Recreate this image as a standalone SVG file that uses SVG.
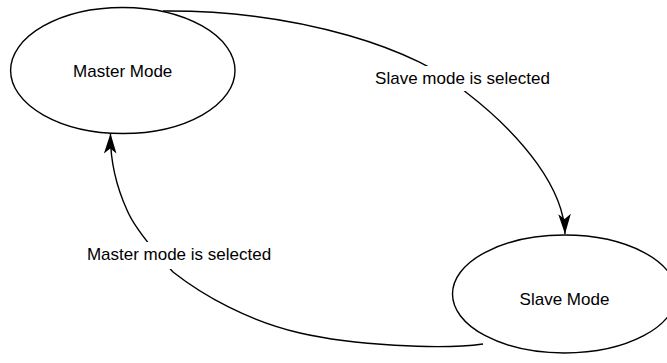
<svg xmlns="http://www.w3.org/2000/svg" width="667" height="363" viewBox="0 0 667 363">
<style>
.node{fill:#ffffff;stroke:#000000;stroke-width:1.4}
.edge{fill:none;stroke:#000000;stroke-width:1.4}
.lbl{font-family:"Liberation Sans",Arial,Helvetica,sans-serif;font-size:17px;fill:#000000;text-anchor:middle}
.lblbg{fill:#ffffff;stroke:none}
</style>
<defs>
<marker id="arrow" markerUnits="userSpaceOnUse" viewBox="-21 -8 22 16" markerWidth="22" markerHeight="16" refX="0" refY="0" orient="auto">
<path d="M0,0 L-20,-6.3 L-15,0 L-20,6.3 Z" fill="#000000"/>
</marker>
</defs>
<rect width="667" height="363" fill="#ffffff"/>
<g id="master">
<ellipse class="node" cx="122.8" cy="70.5" rx="112.2" ry="63"/>
<text class="lbl" x="122.7" y="77.3">Master Mode</text>
</g>
<g id="slave">
<ellipse class="node" cx="564.5" cy="294" rx="112" ry="59"/>
<text class="lbl" x="564.5" y="305">Slave Mode</text>
</g>
<g id="connectors">
<g id="edge-to-slave">
<path class="edge" d="M163,11 C300,10 420,50 467,93 C525,138 564,190 565,234" marker-end="url(#arrow)"/>
<rect class="lblbg" x="371" y="66" width="183" height="25"/>
<text class="lbl" x="462.5" y="84">Slave mode is selected</text>
</g>
<g id="edge-to-master">
<path class="edge" d="M483,344 C440,350 351.7,345 300,333 C248.3,321 203.3,295.8 173,272 C155,252 133,225 127,210 C118,190 110,165 110.5,133.5" marker-end="url(#arrow)"/>
<rect class="lblbg" x="84" y="242" width="191" height="27"/>
<text class="lbl" x="179" y="260">Master mode is selected</text>
</g>
</g>
</svg>
